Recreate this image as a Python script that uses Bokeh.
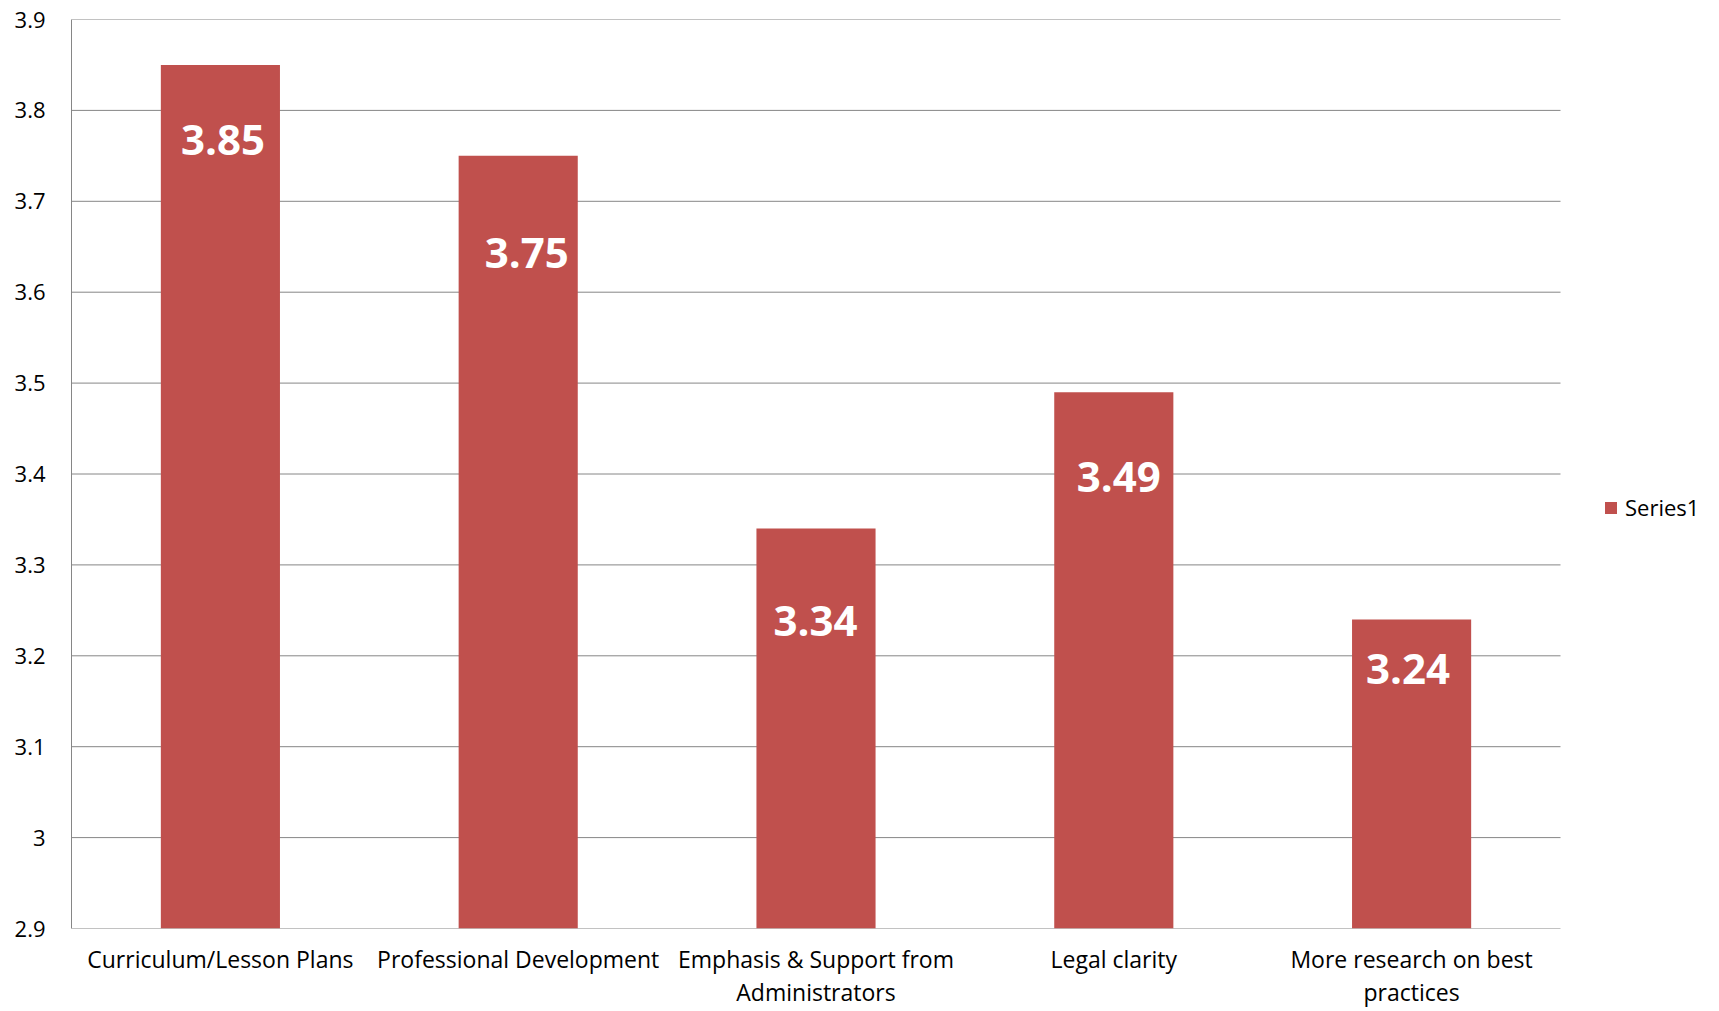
from bokeh.plotting import figure
from bokeh.models import (ColumnDataSource, FixedTicker, CustomJSTickFormatter,
                          Legend, LegendItem, Range1d)
from bokeh.core.properties import value
from bokeh.embed import file_html
from bokeh.resources import INLINE

# ---- data ----
categories = ["Curriculum/Lesson Plans", "Professional Development",
              "Emphasis & Support from\nAdministrators", "Legal clarity",
              "More research on best\npractices"]
values = [3.85, 3.75, 3.34, 3.49, 3.24]
value_labels = ["3.85", "3.75", "3.34", "3.49", "3.24"]
y_ticks = [2.9, 3.0, 3.1, 3.2, 3.3, 3.4, 3.5, 3.6, 3.7, 3.8, 3.9]
series_name = "Series1"

# ---- style / layout ----
label_dx = [2.5, 8.5, -0.5, 5.0, -3.6]   # value-label nudges (screen px)
label_dy = [75, 97, 92, 85, 50]

BAR = "#C0504D"
GRID = "#868686"
FONT = "Open Sans"

W, H = 1711, 1011
LEFT, TOP, BOTTOM = 71, 19, 81
CAT_PX = 297.8  # pixel width of one category slot
n = len(categories)
xpos = list(range(n))
x_end = -0.5 + (W - LEFT) / CAT_PX

src = ColumnDataSource(dict(x=xpos, val=values, lab=value_labels,
                            dx=label_dx, dy=label_dy))

p = figure(x_range=Range1d(-0.5, x_end), y_range=Range1d(y_ticks[0], y_ticks[-1]),
           width=W, height=H, output_backend="svg",
           toolbar_location=None, min_border_left=LEFT, min_border_right=0,
           min_border_top=TOP, min_border_bottom=BOTTOM)
p.outline_line_color = None
p.background_fill_color = "white"
p.border_fill_color = "white"
p.xgrid.grid_line_color = None
p.ygrid.grid_line_color = None

# gridlines, only across the category area
p.segment(x0=[-0.5] * len(y_ticks), x1=[n - 0.5] * len(y_ticks), y0=y_ticks, y1=y_ticks,
          line_color=GRID, line_width=1)

r = p.vbar(x="x", top="val", bottom=y_ticks[0], width=0.4, source=src,
           fill_color=BAR, line_color=None)

p.text(x="x", y="val", text="lab", source=src, x_offset="dx", y_offset="dy",
       text_color="white", text_font=value(FONT), text_font_style="bold",
       text_font_size="42px", text_align="center", text_baseline="middle")

# y axis
p.yaxis.ticker = FixedTicker(ticks=y_ticks)
p.yaxis.formatter = CustomJSTickFormatter(code="return String(Math.round(tick*10)/10);")
p.yaxis.major_tick_line_color = None
p.yaxis.minor_tick_line_color = None
p.yaxis.major_tick_out = 0
p.yaxis.major_tick_in = 0
p.yaxis.major_label_standoff = 26
p.yaxis.axis_line_color = GRID
p.yaxis.major_label_text_font = FONT
p.yaxis.major_label_text_font_size = "22px"
p.yaxis.major_label_text_color = "black"

# x axis
p.xaxis.ticker = FixedTicker(ticks=xpos)
p.xaxis.formatter = CustomJSTickFormatter(args=dict(labels=categories),
                                          code="return labels[Math.round(tick)];")
p.xaxis.major_tick_line_color = None
p.xaxis.minor_tick_line_color = None
p.xaxis.major_tick_out = 0
p.xaxis.major_tick_in = 0
p.xaxis.major_label_standoff = 14
p.xaxis.axis_line_color = None
p.xaxis.major_label_text_font = FONT
p.xaxis.major_label_text_font_size = "23px"
p.xaxis.major_label_text_color = "black"
p.xaxis.major_label_text_line_height = 1.05

legend = Legend(items=[LegendItem(label=series_name, renderers=[r])],
                location=(1532, 406), orientation="vertical",
                glyph_width=15, glyph_height=15, label_standoff=7,
                padding=0, margin=0, border_line_color=None,
                background_fill_alpha=0, label_text_font=FONT,
                label_text_font_size="22px", label_text_color="black")
p.add_layout(legend, "center")

open("out.html", "w").write(file_html(p, INLINE))
